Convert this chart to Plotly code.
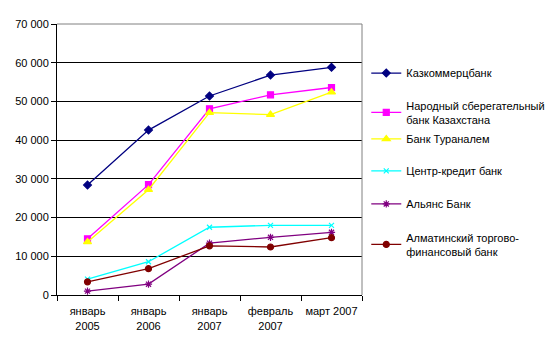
import plotly.graph_objects as go

categories = ["январь<br>2005", "январь<br>2006", "январь<br>2007", "февраль<br>2007", "март 2007"]

kazkom = [28400, 42600, 51400, 56800, 58800]
narodny = [14500, 28500, 48100, 51700, 53600]
turan = [13700, 27200, 47100, 46600, 52400]
centr = [4100, 8600, 17500, 18000, 18000]
alyans = [1000, 2800, 13400, 14900, 16200]
almaty = [3400, 6800, 12700, 12400, 14800]

names = ["Казкоммерцбанк", "Народный сберегательный<br>банк Казахстана", "Банк Тураналем",
         "Центр-кредит банк", "Альянс Банк", "Алматинский торгово-<br>финансовый банк"]
series = [kazkom, narodny, turan, centr, alyans, almaty]
colors = ["#000080", "#FF00FF", "#FFFF00", "#00FFFF", "#800080", "#800000"]
symbols = ["diamond", "square", "triangle-up", "x-thin", "asterisk-open", "circle"]
sizes = [6, 6, 7, 5, 6, 6]
legend_y = [0.819, 0.673, 0.576, 0.458, 0.336, 0.186]

y_ticks = [0, 10000, 20000, 30000, 40000, 50000, 60000, 70000]
y_tick_text = ["0", "10 000", "20 000", "30 000", "40 000", "50 000", "60 000", "70 000"]

fig = go.Figure()
legend_ids = ["legend"] + ["legend%d" % (k + 2) for k in range(len(names) - 1)]
for i, (n, s) in enumerate(zip(names, series)):
    fig.add_trace(go.Scatter(
        x=categories, y=s, name=n, mode="lines+markers",
        line=dict(color=colors[i], width=1.3),
        marker=dict(symbol=symbols[i], size=sizes[i], color=colors[i],
                    line=dict(color=colors[i], width=1.2)),
        legend=legend_ids[i],
    ))

legend_common = dict(x=1.014, xanchor="left", yanchor="middle",
                     font=dict(size=11), itemwidth=30, bgcolor="rgba(0,0,0,0)")
layout_legends = {}
for i, lid in enumerate(legend_ids):
    layout_legends[lid] = dict(legend_common, y=legend_y[i])

fig.update_layout(
    width=556, height=351,
    margin=dict(l=57, r=194, t=24, b=56, autoexpand=False),
    paper_bgcolor="white", plot_bgcolor="white",
    font=dict(family="Liberation Sans, Arial", size=11, color="black"),
    showlegend=True,
    xaxis=dict(type="category", showgrid=False, showline=True, linecolor="black",
               linewidth=1, ticks="outside", tickson="boundaries", ticklen=5,
               tickcolor="black", range=[-0.5, 4.5], zeroline=False, tickangle=0,
               ticklabelstandoff=6, automargin=False),
    yaxis=dict(range=[0, 70000], tickvals=y_ticks, ticktext=y_tick_text,
               showgrid=True, gridcolor="black", gridwidth=1,
               showline=True, linecolor="black", linewidth=1,
               ticks="outside", ticklen=5, tickcolor="black", zeroline=False,
               automargin=False),
    **layout_legends,
)
fig.add_shape(type="line", xref="paper", yref="paper", x0=0, x1=1, y0=1, y1=1,
              line=dict(color="#808080", width=1))
fig.add_shape(type="line", xref="paper", yref="paper", x0=1, x1=1, y0=0, y1=1,
              line=dict(color="#808080", width=1))

fig.write_html("out.html")
